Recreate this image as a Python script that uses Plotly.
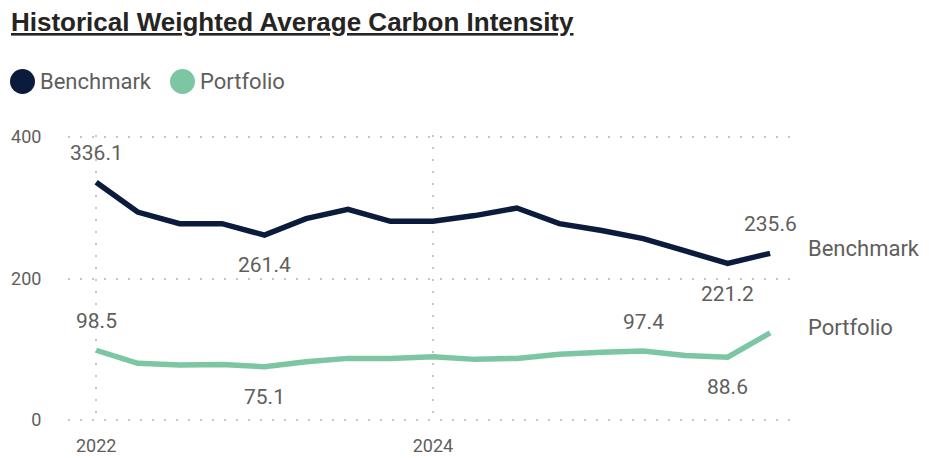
import plotly.graph_objects as go

# ---- data ----
dates = ["2022-01-01", "2022-04-01", "2022-07-01", "2022-10-01",
         "2023-01-01", "2023-04-01", "2023-07-01", "2023-10-01",
         "2024-01-01", "2024-04-01", "2024-07-01", "2024-10-01",
         "2025-01-01", "2025-04-01", "2025-07-01", "2025-10-01",
         "2026-01-01"]
benchmark = [336.1, 294.0, 277.6, 277.6, 261.4, 284.7, 297.8, 280.9, 281.0,
             289.0, 299.7, 277.6, 268.0, 256.4, 239.0, 221.2, 235.6]
portfolio = [98.5, 80.0, 77.6, 78.5, 75.1, 82.3, 87.0, 87.0, 89.4,
             85.6, 87.0, 93.0, 95.5, 97.4, 91.0, 88.6, 123.0]
series_names = ["Benchmark", "Portfolio"]
# labelled points: (index, "above"/"below")
benchmark_labels = [(0, "above"), (4, "below"), (15, "below"), (16, "above")]
portfolio_labels = [(0, "above"), (4, "below"), (13, "above"), (15, "below")]
y_ticks = [0, 200, 400]
x_ticks = ["2022-01-01", "2024-01-01"]
x_ticktext = ["2022", "2024"]
title_text = "Historical Weighted Average Carbon Intensity"

# ---- style ----
NAVY = "#0B1B3C"
GREEN = "#7CC6A4"
GRAY = "#605E5C"
GRID = "#C8C6C4"
FONT = "Roboto"

W, H = 929, 458
ML, MR, MT, MB = 68, 134, 135, 36
pw = W - ML - MR
ph = H - MT - MB


def px_x(px):
    return (px - ML) / pw


def px_y(py):
    return (H - MB - py) / ph


fig = go.Figure()
for name, vals, col in [(series_names[0], benchmark, NAVY),
                        (series_names[1], portfolio, GREEN)]:
    fig.add_trace(go.Scatter(x=dates, y=vals, mode="lines", name=name,
                             line=dict(color=col, width=5.5),
                             showlegend=False, hoverinfo="skip"))

annotations = []
for vals, labels in [(benchmark, benchmark_labels), (portfolio, portfolio_labels)]:
    for i, pos in labels:
        annotations.append(dict(
            x=dates[i], y=vals[i], xref="x", yref="y", text=f"{vals[i]:.1f}",
            showarrow=False, xanchor="center", yanchor="middle",
            yshift=29 if pos == "above" else -30,
            font=dict(family=FONT, size=21, color=GRAY)))

# end-of-line series labels
for name, vals in [(series_names[0], benchmark), (series_names[1], portfolio)]:
    annotations.append(dict(
        x=dates[-1], y=vals[-1], xref="x", yref="y", text=name,
        showarrow=False, xanchor="left", yanchor="middle",
        xshift=36, yshift=5,
        font=dict(family=FONT, size=22, color=GRAY)))

# title
annotations.append(dict(
    x=px_x(9), y=px_y(22), xref="paper", yref="paper",
    text=f"<b><u>{title_text}</u></b>", showarrow=False,
    xanchor="left", yanchor="middle",
    font=dict(family="Liberation Sans", size=26, color="#252423")))

# legend (custom)
shapes = []
legend_items = [(series_names[0], NAVY, 22.5, 40), (series_names[1], GREEN, 182.5, 200)]
for name, col, cx, tx in legend_items:
    shapes.append(dict(type="circle", xref="paper", yref="paper",
                       xsizemode="pixel", ysizemode="pixel",
                       xanchor=px_x(cx), yanchor=px_y(81.5),
                       x0=-12.5, x1=12.5, y0=-12.5, y1=12.5,
                       fillcolor=col, line=dict(width=0)))
    annotations.append(dict(
        x=px_x(tx - 2), y=px_y(81), xref="paper", yref="paper", text=name,
        showarrow=False, xanchor="left", yanchor="middle",
        font=dict(family=FONT, size=22, color=GRAY)))

fig.update_layout(
    width=W, height=H,
    margin=dict(l=ML, r=MR, t=MT, b=MB, autoexpand=False),
    paper_bgcolor="white", plot_bgcolor="white",
    annotations=annotations, shapes=shapes,
    showlegend=False,
)
fig.update_xaxes(
    type="date", range=["2021-11-01", "2026-02-24"],
    tickvals=x_ticks, ticktext=x_ticktext, automargin=False,
    showgrid=True, gridcolor=GRID, gridwidth=1.5, griddash="2px,10px",
    zeroline=False, showline=False,
    ticks="outside", ticklen=7, tickcolor="rgba(0,0,0,0)",
    tickfont=dict(family=FONT, size=18, color=GRAY),
)
fig.update_yaxes(
    range=[-3, 403], tickvals=y_ticks, automargin=False,
    showgrid=True, gridcolor=GRID, gridwidth=1.5, griddash="2px,10px",
    zeroline=False, showline=False,
    ticks="outside", ticklen=22, tickcolor="rgba(0,0,0,0)",
    tickfont=dict(family=FONT, size=18, color=GRAY),
)

fig.write_html("out.html")
